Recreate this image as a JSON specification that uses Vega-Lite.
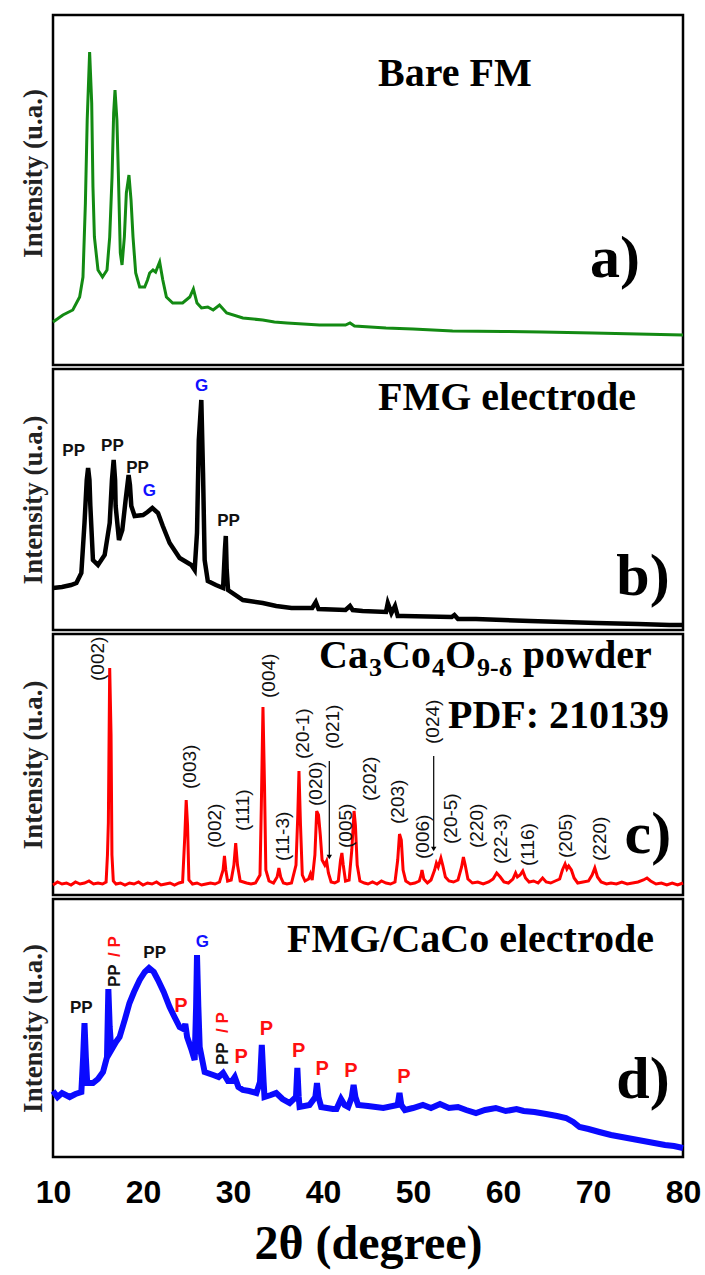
{
  "$schema": "https://vega.github.io/schema/vega-lite/v6.json",
  "padding": {"left": 17, "top": 13, "right": 10, "bottom": 5},
  "background": "white",
  "spacing": 4,
  "bounds": "flush",
  "config": {
    "view": {"stroke": "black", "strokeWidth": 2.5},
    "axis": {"grid": false},
    "text": {"color": "black"}
  },
  "datasets": {
    "a": [
      {"t":10,"i":43},{"t":11.1,"i":50},{"t":12.2,"i":55},{"t":12.96,"i":68},{"t":13.33,"i":88},{"t":13.6,"i":162},{"t":13.8,"i":245},{"t":14.07,"i":313},{"t":14.3,"i":262},{"t":14.44,"i":178},{"t":14.6,"i":128},{"t":15.0,"i":95},{"t":15.5,"i":88},{"t":16.0,"i":95},{"t":16.3,"i":128},{"t":16.56,"i":188},{"t":16.74,"i":252},{"t":16.89,"i":275},{"t":17.1,"i":245},{"t":17.26,"i":192},{"t":17.48,"i":112},{"t":17.67,"i":100},{"t":17.93,"i":128},{"t":18.15,"i":172},{"t":18.44,"i":190},{"t":18.67,"i":165},{"t":18.89,"i":128},{"t":19.19,"i":92},{"t":19.63,"i":78},{"t":20.19,"i":78},{"t":20.5,"i":85},{"t":20.74,"i":92},{"t":21.11,"i":95},{"t":21.4,"i":93},{"t":21.85,"i":103},{"t":22.2,"i":85},{"t":22.6,"i":68},{"t":23.3,"i":62},{"t":24.4,"i":62},{"t":25.2,"i":68},{"t":25.6,"i":76},{"t":26.0,"i":62},{"t":26.5,"i":57},{"t":27.2,"i":58},{"t":27.8,"i":55},{"t":28.5,"i":60},{"t":29.3,"i":52},{"t":31.1,"i":47},{"t":33.3,"i":45},{"t":34.6,"i":43},{"t":36,"i":42},{"t":39.6,"i":40},{"t":42.5,"i":40},{"t":43.0,"i":42},{"t":43.5,"i":39},{"t":47,"i":37},{"t":50,"i":36},{"t":54.4,"i":34},{"t":60,"i":33.5},{"t":64.3,"i":33},{"t":70,"i":32},{"t":75,"i":31},{"t":80,"i":30}
    ],
    "b": [
      {"t":10.0,"i":42},{"t":11,"i":43},{"t":12,"i":45},{"t":12.6,"i":47},{"t":13.15,"i":57},{"t":13.5,"i":107},{"t":13.75,"i":150},{"t":13.9,"i":162},{"t":14.05,"i":150},{"t":14.15,"i":124},{"t":14.44,"i":70},{"t":15.0,"i":65},{"t":15.74,"i":75},{"t":16.3,"i":107},{"t":16.55,"i":150},{"t":16.74,"i":170},{"t":16.9,"i":150},{"t":16.96,"i":124},{"t":17.33,"i":90},{"t":17.7,"i":100},{"t":18.07,"i":130},{"t":18.4,"i":155},{"t":18.55,"i":145},{"t":18.7,"i":124},{"t":19.07,"i":114},{"t":20.0,"i":115},{"t":20.5,"i":118},{"t":21.04,"i":122},{"t":21.67,"i":117},{"t":22.2,"i":104},{"t":22.96,"i":87},{"t":24.07,"i":72},{"t":25.37,"i":65},{"t":25.74,"i":60},{"t":26.0,"i":97},{"t":26.2,"i":190},{"t":26.48,"i":230},{"t":26.67,"i":157},{"t":26.85,"i":70},{"t":27.2,"i":49},{"t":28.1,"i":45},{"t":28.9,"i":42},{"t":29.1,"i":80},{"t":29.2,"i":94},{"t":29.3,"i":60},{"t":29.45,"i":40},{"t":31.1,"i":30},{"t":33.3,"i":27},{"t":34.8,"i":24},{"t":36.5,"i":22},{"t":38.8,"i":22},{"t":39.2,"i":28},{"t":39.5,"i":21},{"t":42.5,"i":20},{"t":43.0,"i":24},{"t":43.3,"i":20},{"t":44.4,"i":19},{"t":47.0,"i":18},{"t":47.2,"i":27},{"t":47.6,"i":17},{"t":48.0,"i":24},{"t":48.3,"i":14},{"t":48.9,"i":14},{"t":54.3,"i":13},{"t":54.6,"i":15},{"t":55.0,"i":11},{"t":57,"i":11},{"t":63,"i":9},{"t":70.4,"i":7},{"t":75,"i":6},{"t":78.5,"i":5},{"t":80,"i":5}
    ],
    "c": [
      {"t":10.0,"i":10},{"t":10.5,"i":13},{"t":11,"i":11},{"t":11.5,"i":12},{"t":12,"i":10},{"t":12.5,"i":13},{"t":13,"i":11},{"t":13.5,"i":12},{"t":14,"i":14},{"t":14.5,"i":11},{"t":15,"i":12},{"t":15.5,"i":11},{"t":15.9,"i":13},{"t":16.05,"i":40},{"t":16.15,"i":72},{"t":16.3,"i":227},{"t":16.45,"i":160},{"t":16.55,"i":40},{"t":16.7,"i":14},{"t":17,"i":11},{"t":17.5,"i":12},{"t":18,"i":10},{"t":18.5,"i":12},{"t":19,"i":11},{"t":19.5,"i":13},{"t":20,"i":10},{"t":20.5,"i":12},{"t":21,"i":11},{"t":21.5,"i":13},{"t":22,"i":10},{"t":22.5,"i":11},{"t":23,"i":12},{"t":23.5,"i":10},{"t":24,"i":12},{"t":24.4,"i":13},{"t":24.65,"i":60},{"t":24.8,"i":95},{"t":24.95,"i":70},{"t":25.1,"i":15},{"t":25.5,"i":11},{"t":26,"i":12},{"t":26.5,"i":10},{"t":27,"i":11},{"t":27.5,"i":12},{"t":28,"i":11},{"t":28.5,"i":13},{"t":28.9,"i":25},{"t":29.05,"i":39},{"t":29.2,"i":25},{"t":29.4,"i":14},{"t":29.8,"i":15},{"t":30.1,"i":30},{"t":30.3,"i":52},{"t":30.5,"i":30},{"t":30.8,"i":14},{"t":31.5,"i":12},{"t":32,"i":11},{"t":32.5,"i":12},{"t":33.0,"i":20},{"t":33.15,"i":90},{"t":33.33,"i":188},{"t":33.5,"i":110},{"t":33.65,"i":25},{"t":34,"i":14},{"t":34.5,"i":12},{"t":34.9,"i":18},{"t":35.1,"i":27},{"t":35.3,"i":18},{"t":35.6,"i":12},{"t":36,"i":11},{"t":36.5,"i":12},{"t":37.0,"i":30},{"t":37.2,"i":80},{"t":37.33,"i":124},{"t":37.5,"i":70},{"t":37.7,"i":20},{"t":38.0,"i":14},{"t":38.4,"i":16},{"t":38.6,"i":21},{"t":38.8,"i":15},{"t":39.1,"i":40},{"t":39.3,"i":84},{"t":39.5,"i":80},{"t":39.7,"i":60},{"t":39.9,"i":35},{"t":40.2,"i":30},{"t":40.4,"i":34},{"t":40.6,"i":22},{"t":40.9,"i":13},{"t":41.3,"i":12},{"t":41.7,"i":14},{"t":41.95,"i":35},{"t":42.1,"i":42},{"t":42.25,"i":30},{"t":42.5,"i":14},{"t":42.9,"i":15},{"t":43.2,"i":45},{"t":43.45,"i":84},{"t":43.6,"i":70},{"t":43.8,"i":30},{"t":44.1,"i":14},{"t":44.6,"i":12},{"t":45,"i":11},{"t":45.5,"i":13},{"t":46,"i":11},{"t":46.5,"i":14},{"t":47,"i":12},{"t":47.5,"i":11},{"t":48,"i":13},{"t":48.3,"i":35},{"t":48.5,"i":61},{"t":48.7,"i":55},{"t":48.9,"i":25},{"t":49.2,"i":14},{"t":49.7,"i":11},{"t":50.2,"i":12},{"t":50.7,"i":14},{"t":50.9,"i":20},{"t":51.0,"i":25},{"t":51.2,"i":16},{"t":51.6,"i":12},{"t":52.0,"i":15},{"t":52.4,"i":25},{"t":52.6,"i":32},{"t":52.8,"i":28},{"t":53.1,"i":37},{"t":53.3,"i":30},{"t":53.6,"i":18},{"t":54,"i":14},{"t":54.5,"i":13},{"t":55,"i":15},{"t":55.4,"i":28},{"t":55.6,"i":38},{"t":55.8,"i":30},{"t":56.1,"i":16},{"t":56.6,"i":12},{"t":57.2,"i":13},{"t":57.8,"i":11},{"t":58.4,"i":13},{"t":58.9,"i":16},{"t":59.3,"i":22},{"t":59.7,"i":18},{"t":60.1,"i":13},{"t":60.6,"i":12},{"t":61.1,"i":16},{"t":61.4,"i":22},{"t":61.6,"i":18},{"t":61.9,"i":20},{"t":62.2,"i":24},{"t":62.5,"i":17},{"t":62.9,"i":13},{"t":63.4,"i":14},{"t":63.9,"i":12},{"t":64.4,"i":17},{"t":64.8,"i":13},{"t":65.3,"i":12},{"t":65.8,"i":14},{"t":66.3,"i":16},{"t":66.6,"i":25},{"t":66.9,"i":31},{"t":67.1,"i":26},{"t":67.3,"i":29},{"t":67.6,"i":25},{"t":67.9,"i":17},{"t":68.3,"i":12},{"t":68.9,"i":13},{"t":69.5,"i":14},{"t":69.9,"i":20},{"t":70.2,"i":27},{"t":70.5,"i":18},{"t":70.9,"i":13},{"t":71.5,"i":11},{"t":72,"i":12},{"t":72.6,"i":11},{"t":73.2,"i":13},{"t":73.8,"i":11},{"t":74.4,"i":12},{"t":75,"i":13},{"t":75.6,"i":15},{"t":76.0,"i":17},{"t":76.4,"i":14},{"t":77,"i":11},{"t":77.6,"i":12},{"t":78.2,"i":10},{"t":78.8,"i":12},{"t":79.4,"i":10},{"t":80,"i":12}
    ],
    "d": [
      {"t":10,"i":66},{"t":10.5,"i":60},{"t":11,"i":64},{"t":11.85,"i":60},{"t":12.5,"i":63},{"t":13.15,"i":65},{"t":13.35,"i":100},{"t":13.5,"i":134},{"t":13.65,"i":100},{"t":13.8,"i":74},{"t":14.44,"i":74},{"t":15,"i":78},{"t":15.56,"i":85},{"t":16.0,"i":100},{"t":16.15,"i":168},{"t":16.3,"i":130},{"t":16.48,"i":107},{"t":17.0,"i":115},{"t":17.4,"i":120},{"t":18.0,"i":138},{"t":18.5,"i":154},{"t":19.0,"i":165},{"t":19.63,"i":177},{"t":20.2,"i":185},{"t":20.67,"i":189},{"t":21.2,"i":185},{"t":21.67,"i":177},{"t":22.3,"i":165},{"t":22.96,"i":150},{"t":23.5,"i":140},{"t":24.07,"i":130},{"t":24.5,"i":128},{"t":24.7,"i":133},{"t":24.9,"i":120},{"t":25.4,"i":107},{"t":25.74,"i":97},{"t":25.9,"i":150},{"t":26.0,"i":202},{"t":26.15,"i":150},{"t":26.3,"i":110},{"t":26.85,"i":85},{"t":27.8,"i":82},{"t":28.4,"i":80},{"t":28.9,"i":84},{"t":29.44,"i":76},{"t":29.9,"i":76},{"t":30.2,"i":80},{"t":30.6,"i":70},{"t":31.1,"i":67},{"t":31.8,"i":66},{"t":32.6,"i":64},{"t":33.0,"i":75},{"t":33.2,"i":112},{"t":33.4,"i":75},{"t":33.5,"i":60},{"t":34.2,"i":62},{"t":34.8,"i":64},{"t":35.5,"i":58},{"t":36.3,"i":54},{"t":37.0,"i":60},{"t":37.15,"i":89},{"t":37.3,"i":60},{"t":37.4,"i":50},{"t":38.5,"i":52},{"t":39.15,"i":60},{"t":39.33,"i":74},{"t":39.5,"i":60},{"t":39.8,"i":50},{"t":41.1,"i":48},{"t":41.5,"i":48},{"t":42.0,"i":58},{"t":42.4,"i":52},{"t":42.8,"i":50},{"t":43.2,"i":60},{"t":43.4,"i":72},{"t":43.6,"i":60},{"t":43.9,"i":52},{"t":45.0,"i":51},{"t":46.7,"i":49},{"t":48.3,"i":52},{"t":48.5,"i":64},{"t":48.7,"i":52},{"t":49.1,"i":47},{"t":50.0,"i":49},{"t":51.1,"i":52},{"t":52.0,"i":49},{"t":53.0,"i":53},{"t":54.0,"i":49},{"t":55.0,"i":50},{"t":55.9,"i":47},{"t":57.0,"i":44},{"t":58.0,"i":47},{"t":59.2,"i":49},{"t":60.3,"i":46},{"t":61.5,"i":48},{"t":62.3,"i":46},{"t":63.5,"i":45},{"t":64.8,"i":43},{"t":66.0,"i":41},{"t":67.0,"i":39},{"t":67.8,"i":35},{"t":68.5,"i":30},{"t":69.5,"i":28},{"t":70.7,"i":25},{"t":72,"i":22},{"t":73.2,"i":20},{"t":74.4,"i":18},{"t":75.6,"i":16},{"t":76.8,"i":14},{"t":78,"i":12},{"t":79,"i":11},{"t":80,"i":9}
    ],
    "ann": [
      {"p":"a","k":"title","t":46.11,"i":279,"label":"Bare FM"},
      {"p":"a","k":"letter","t":72.44,"i":88,"label":"a)"},
      {"p":"b","k":"title","t":46.11,"i":220,"label":"FMG electrode"},
      {"p":"b","k":"letter","t":75.56,"i":35,"label":"b)"},
      {"p":"b","k":"pp","t":12.3,"i":174,"label":"PP"},
      {"p":"b","k":"pp","t":16.6,"i":179,"label":"PP"},
      {"p":"b","k":"pp","t":19.4,"i":157,"label":"PP"},
      {"p":"b","k":"g","t":20.7,"i":134,"label":"G"},
      {"p":"b","k":"g","t":26.5,"i":239,"label":"G"},
      {"p":"b","k":"pp","t":29.5,"i":104,"label":"PP"},
      {"p":"c","k":"title","t":39.56,"i":227,"label":"Ca"},
      {"p":"c","k":"sub","t":45.11,"i":219,"label":"3"},
      {"p":"c","k":"title","t":46.56,"i":227,"label":"Co"},
      {"p":"c","k":"sub","t":52.11,"i":219,"label":"4"},
      {"p":"c","k":"title","t":53.56,"i":227,"label":"O"},
      {"p":"c","k":"sub","t":57.11,"i":219,"label":"9-δ"},
      {"p":"c","k":"title","t":62.2,"i":227,"label":"powder"},
      {"p":"c","k":"title","t":53.89,"i":167,"label":"PDF: 210139"},
      {"p":"c","k":"letter","t":76.1,"i":42,"label":"c)"},
      {"p":"c","k":"hkl","t":15.0,"i":214,"label":"(002)"},
      {"p":"c","k":"hkl","t":25.2,"i":106,"label":"(003)"},
      {"p":"c","k":"hkl","t":27.96,"i":47,"label":"(002)"},
      {"p":"c","k":"hkl","t":31.1,"i":64,"label":"(111)"},
      {"p":"c","k":"hkl","t":34.0,"i":197,"label":"(004)"},
      {"p":"c","k":"hkl","t":35.5,"i":34,"label":"(11-3)"},
      {"p":"c","k":"hkl","t":37.8,"i":136,"label":"(20-1)"},
      {"p":"c","k":"hkl","t":39.26,"i":89,"label":"(020)"},
      {"p":"c","k":"hkl","t":41.1,"i":146,"label":"(021)"},
      {"p":"c","k":"hkl","t":42.5,"i":47,"label":"(005)"},
      {"p":"c","k":"hkl","t":45.2,"i":94,"label":"(202)"},
      {"p":"c","k":"hkl","t":48.3,"i":71,"label":"(203)"},
      {"p":"c","k":"hkl","t":51.1,"i":36,"label":"(006)"},
      {"p":"c","k":"hkl","t":52.2,"i":151,"label":"(024)"},
      {"p":"c","k":"hkl","t":54.2,"i":51,"label":"(20-5)"},
      {"p":"c","k":"hkl","t":57.1,"i":47,"label":"(220)"},
      {"p":"c","k":"hkl","t":59.8,"i":31,"label":"(22-3)"},
      {"p":"c","k":"hkl","t":62.8,"i":29,"label":"(116)"},
      {"p":"c","k":"hkl","t":67.0,"i":37,"label":"(205)"},
      {"p":"c","k":"hkl","t":70.8,"i":34,"label":"(220)"},
      {"p":"d","k":"title","t":36.0,"i":205,"label":"FMG/CaCo electrode"},
      {"p":"d","k":"letter","t":75.56,"i":59,"label":"d)"},
      {"p":"d","k":"pp","t":13.15,"i":144,"label":"PP"},
      {"p":"d","k":"pp","t":21.3,"i":199,"label":"PP"},
      {"p":"d","k":"g","t":26.6,"i":210,"label":"G"},
      {"p":"d","k":"p","t":24.2,"i":145,"label":"P"},
      {"p":"d","k":"p","t":30.9,"i":94,"label":"P"},
      {"p":"d","k":"p","t":33.7,"i":122,"label":"P"},
      {"p":"d","k":"p","t":37.3,"i":100,"label":"P"},
      {"p":"d","k":"p","t":39.9,"i":82,"label":"P"},
      {"p":"d","k":"p","t":43.1,"i":80,"label":"P"},
      {"p":"d","k":"p","t":49.0,"i":74,"label":"P"},
      {"p":"d","k":"rpp","t":16.85,"i":170,"label":"PP"},
      {"p":"d","k":"rp","t":16.85,"i":200,"label":"/ P"},
      {"p":"d","k":"rpp","t":28.9,"i":92,"label":"PP"},
      {"p":"d","k":"rp","t":28.9,"i":124,"label":"/ P"}
    ],
    "arrows": [
      {"t":40.7,"i":134,"i2":38},
      {"t":52.3,"i":139,"i2":46}
    ]
  },
  "vconcat": [
    {
      "width": 630, "height": 350,
      "encoding": {
        "x": {"field": "t", "type": "quantitative", "scale": {"domain": [10, 80], "nice": false}, "axis": null},
        "y": {"field": "i", "type": "quantitative", "scale": {"domain": [0, 350], "nice": false},
              "axis": {"title": "Intensity (u.a.)", "labels": false, "ticks": false, "domain": false, "grid": false, "titleFont": "Liberation Serif", "titleFontSize": 27, "titleFontWeight": "bold", "titleColor": "#222", "titlePadding": 6, "titleY": 158}}
      },
      "layer": [
        {"data": {"name": "a"}, "mark": {"type": "line", "color": "#138a13", "strokeWidth": 3}},
        {"data": {"name": "ann"}, "transform": [{"filter": "datum.p==='a' && datum.k==='title'"}], "mark": {"type": "text", "font": "Liberation Serif", "fontWeight": "bold", "fontSize": 40, "align": "left", "baseline": "alphabetic"}, "encoding": {"text": {"field": "label"}}},
        {"data": {"name": "ann"}, "transform": [{"filter": "datum.p==='a' && datum.k==='letter'"}], "mark": {"type": "text", "font": "Liberation Serif", "fontWeight": "bold", "fontSize": 60, "align": "center", "baseline": "alphabetic"}, "encoding": {"text": {"field": "label"}}}
      ]
    },
    {
      "width": 630, "height": 261,
      "encoding": {
        "x": {"field": "t", "type": "quantitative", "scale": {"domain": [10, 80], "nice": false}, "axis": null},
        "y": {"field": "i", "type": "quantitative", "scale": {"domain": [0, 261], "nice": false},
              "axis": {"title": "Intensity (u.a.)", "labels": false, "ticks": false, "domain": false, "grid": false, "titleFont": "Liberation Serif", "titleFontSize": 27, "titleFontWeight": "bold", "titleColor": "#222", "titlePadding": 6}}
      },
      "layer": [
        {"data": {"name": "b"}, "mark": {"type": "line", "color": "black", "strokeWidth": 4.5}},
        {"data": {"name": "ann"}, "transform": [{"filter": "datum.p==='b' && datum.k==='title'"}], "mark": {"type": "text", "font": "Liberation Serif", "fontWeight": "bold", "fontSize": 40, "align": "left", "baseline": "alphabetic"}, "encoding": {"text": {"field": "label"}}},
        {"data": {"name": "ann"}, "transform": [{"filter": "datum.p==='b' && datum.k==='letter'"}], "mark": {"type": "text", "font": "Liberation Serif", "fontWeight": "bold", "fontSize": 60, "align": "center", "baseline": "alphabetic"}, "encoding": {"text": {"field": "label"}}},
        {"data": {"name": "ann"}, "transform": [{"filter": "datum.p==='b' && datum.k==='pp'"}], "mark": {"type": "text", "font": "Liberation Sans", "fontWeight": "bold", "fontSize": 17, "align": "center", "baseline": "alphabetic", "color": "#111"}, "encoding": {"text": {"field": "label"}}},
        {"data": {"name": "ann"}, "transform": [{"filter": "datum.p==='b' && datum.k==='g'"}], "mark": {"type": "text", "font": "Liberation Sans", "fontWeight": "bold", "fontSize": 17, "align": "center", "baseline": "alphabetic", "color": "#1010ff"}, "encoding": {"text": {"field": "label"}}}
      ]
    },
    {
      "width": 630, "height": 261,
      "encoding": {
        "x": {"field": "t", "type": "quantitative", "scale": {"domain": [10, 80], "nice": false}, "axis": null},
        "y": {"field": "i", "type": "quantitative", "scale": {"domain": [0, 261], "nice": false},
              "axis": {"title": "Intensity (u.a.)", "labels": false, "ticks": false, "domain": false, "grid": false, "titleFont": "Liberation Serif", "titleFontSize": 27, "titleFontWeight": "bold", "titleColor": "#222", "titlePadding": 6}}
      },
      "layer": [
        {"data": {"name": "c"}, "mark": {"type": "line", "color": "#ff0000", "strokeWidth": 3}},
        {"data": {"name": "arrows"}, "mark": {"type": "rule", "color": "black", "strokeWidth": 1.2}, "encoding": {"y2": {"field": "i2"}}},
        {"data": {"name": "arrows"}, "mark": {"type": "point", "shape": "triangle-down", "filled": true, "color": "black", "size": 30, "opacity": 1}, "encoding": {"y": {"field": "i2", "type": "quantitative"}}},
        {"data": {"name": "ann"}, "transform": [{"filter": "datum.p==='c' && datum.k==='title'"}], "mark": {"type": "text", "font": "Liberation Serif", "fontWeight": "bold", "fontSize": 40, "align": "left", "baseline": "alphabetic"}, "encoding": {"text": {"field": "label"}}},
        {"data": {"name": "ann"}, "transform": [{"filter": "datum.p==='c' && datum.k==='sub'"}], "mark": {"type": "text", "font": "Liberation Serif", "fontWeight": "bold", "fontSize": 26, "align": "left", "baseline": "alphabetic"}, "encoding": {"text": {"field": "label"}}},
        {"data": {"name": "ann"}, "transform": [{"filter": "datum.p==='c' && datum.k==='letter'"}], "mark": {"type": "text", "font": "Liberation Serif", "fontWeight": "bold", "fontSize": 60, "align": "center", "baseline": "alphabetic"}, "encoding": {"text": {"field": "label"}}},
        {"data": {"name": "ann"}, "transform": [{"filter": "datum.p==='c' && datum.k==='hkl'"}], "mark": {"type": "text", "font": "Liberation Sans", "fontSize": 19, "angle": 270, "align": "left", "baseline": "middle", "color": "#111"}, "encoding": {"text": {"field": "label"}}}
      ]
    },
    {
      "width": 630, "height": 258,
      "encoding": {
        "x": {"field": "t", "type": "quantitative", "scale": {"domain": [10, 80], "nice": false},
              "axis": {"values": [10, 20, 30, 40, 50, 60, 70, 80], "format": "d", "title": "2θ (degree)", "ticks": false, "domain": false, "grid": false, "labelFont": "Liberation Sans", "labelFontWeight": "bold", "labelFontSize": 32, "labelColor": "black", "labelPadding": 20, "labelFlush": false, "labelOverlap": false, "titleFont": "Liberation Serif", "titleFontSize": 48, "titleFontWeight": "bold", "titleColor": "black", "titlePadding": 12}},
        "y": {"field": "i", "type": "quantitative", "scale": {"domain": [0, 258], "nice": false},
              "axis": {"title": "Intensity (u.a.)", "labels": false, "ticks": false, "domain": false, "grid": false, "titleFont": "Liberation Serif", "titleFontSize": 27, "titleFontWeight": "bold", "titleColor": "#222", "titlePadding": 6}}
      },
      "layer": [
        {"data": {"name": "d"}, "mark": {"type": "line", "color": "#0a0aff", "strokeWidth": 6}},
        {"data": {"name": "ann"}, "transform": [{"filter": "datum.p==='d' && datum.k==='title'"}], "mark": {"type": "text", "font": "Liberation Serif", "fontWeight": "bold", "fontSize": 40, "align": "left", "baseline": "alphabetic"}, "encoding": {"text": {"field": "label"}}},
        {"data": {"name": "ann"}, "transform": [{"filter": "datum.p==='d' && datum.k==='letter'"}], "mark": {"type": "text", "font": "Liberation Serif", "fontWeight": "bold", "fontSize": 60, "align": "center", "baseline": "alphabetic"}, "encoding": {"text": {"field": "label"}}},
        {"data": {"name": "ann"}, "transform": [{"filter": "datum.p==='d' && datum.k==='pp'"}], "mark": {"type": "text", "font": "Liberation Sans", "fontWeight": "bold", "fontSize": 17, "align": "center", "baseline": "alphabetic", "color": "#111"}, "encoding": {"text": {"field": "label"}}},
        {"data": {"name": "ann"}, "transform": [{"filter": "datum.p==='d' && datum.k==='g'"}], "mark": {"type": "text", "font": "Liberation Sans", "fontWeight": "bold", "fontSize": 17, "align": "center", "baseline": "alphabetic", "color": "#1010ff"}, "encoding": {"text": {"field": "label"}}},
        {"data": {"name": "ann"}, "transform": [{"filter": "datum.p==='d' && datum.k==='p'"}], "mark": {"type": "text", "font": "Liberation Sans", "fontWeight": "bold", "fontSize": 20, "align": "center", "baseline": "alphabetic", "color": "#ff1010"}, "encoding": {"text": {"field": "label"}}},
        {"data": {"name": "ann"}, "transform": [{"filter": "datum.p==='d' && datum.k==='rpp'"}], "mark": {"type": "text", "font": "Liberation Sans", "fontWeight": "bold", "fontSize": 17, "angle": 270, "align": "left", "baseline": "middle", "color": "#111"}, "encoding": {"text": {"field": "label"}}},
        {"data": {"name": "ann"}, "transform": [{"filter": "datum.p==='d' && datum.k==='rp'"}], "mark": {"type": "text", "font": "Liberation Sans", "fontWeight": "bold", "fontSize": 17, "angle": 270, "align": "left", "baseline": "middle", "color": "#ff1010"}, "encoding": {"text": {"field": "label"}}}
      ]
    }
  ]
}
